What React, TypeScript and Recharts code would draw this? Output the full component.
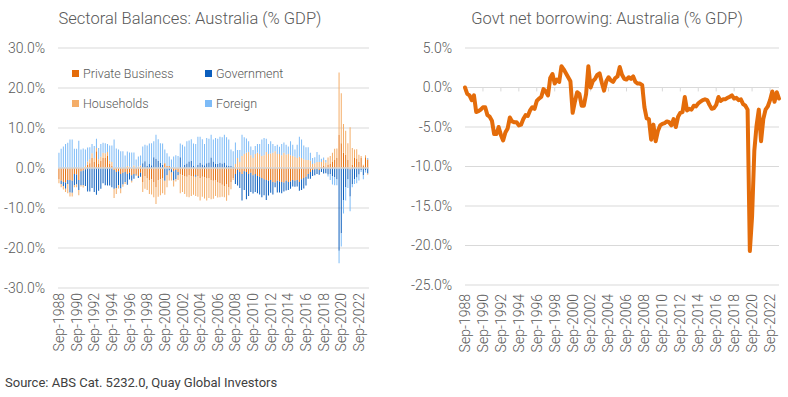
import React from 'react';
import { BarChart, Bar, XAxis, YAxis, CartesianGrid, ReferenceLine, LineChart, Line } from 'recharts';

// ---------- categories ----------
const MONTHS = ['Sep', 'Dec', 'Mar', 'Jun'];
const START_YEAR = 1988;
const N_QUARTERS = 141;
const CATEGORIES: string[] = Array.from({ length: N_QUARTERS }, (_, i) => `${MONTHS[i % 4]}-${START_YEAR + Math.floor((i + 2) / 4)}`);

const TICK_LABELS = [
  'Sep-1988', 'Sep-1990', 'Sep-1992', 'Sep-1994', 'Sep-1996', 'Sep-1998', 'Sep-2000', 'Sep-2002', 'Sep-2004',
  'Sep-2006', 'Sep-2008', 'Sep-2010', 'Sep-2012', 'Sep-2014', 'Sep-2016', 'Sep-2018', 'Sep-2020', 'Sep-2022',
];

const LEFT_Y_TICKS = [-30, -20, -10, 0, 10, 20, 30];
const RIGHT_Y_TICKS = [-25, -20, -15, -10, -5, 0, 5];

// ---------- series (% GDP) ----------
const PRIVATE_BUSINESS = [
  -2.8, -3.2, -3.5, -3.6, -3.0, -3.0, -3.2, -1.5, -1.6, -3.0,
  -0.8, -0.6, -0.3, 0.8, 1.2, 2.5, 1.5, 4.2, 1.0, 1.8,
  2.5, 2.5, 3.0, 1.0, 0.5, -0.5, -1.0, -0.8, -1.5, -1.2,
  -1.0, -1.5, -1.2, -1.8, -1.5, -1.6, -2.0, -1.2, -3.5, -2.0,
  -2.5, -3.0, -2.8, -3.5, -4.8, -3.0, -2.8, -2.5, 1.2, 0.5,
  0.5, -0.3, -0.8, -0.5, -1.0, -1.5, -1.8, -2.0, -2.2, -1.8,
  -2.0, -2.2, -1.8, -2.0, -2.5, -2.2, -2.4, -2.6, -2.5, -3.0,
  -3.2, -3.0, -3.6, -3.8, -4.2, -4.5, -4.0, -4.8, -3.5, -2.5,
  -1.5, -0.5, -1.0, -1.5, -0.8, -1.0, -1.5, -1.2, -1.8, -1.5,
  -2.0, -2.2, -2.5, -2.8, -3.0, -3.2, -3.0, -3.5, -3.6, -3.2,
  -3.4, -3.5, -3.6, -3.2, -3.5, -3.4, -3.0, -3.2, -3.0, -3.5,
  -2.8, -2.5, -2.2, -1.5, -1.0, -0.5, -0.3, -0.2, -0.5, 0.3,
  0.5, 0.2, 0.8, 1.0, 1.5, 2.0, 2.5, 8.3, 6.2, 3.8,
  3.3, 2.0, -0.3, 0.8, 2.5, 2.4, 1.5, 2.5, 0.5, 2.7, 2.1,
];

const GOVERNMENT = [
  0.0, -0.8, -1.0, -1.6, -1.0, -3.1, -3.0, -2.8, -2.5, -2.5,
  -3.5, -3.7, -4.2, -5.9, -5.9, -5.0, -6.0, -6.7, -5.7, -5.2,
  -3.8, -4.3, -4.4, -4.4, -4.8, -4.7, -4.0, -3.5, -3.6, -2.9,
  -2.5, -2.7, -1.7, -1.4, -1.2, -0.2, -0.5, -1.0, 1.2, 1.7,
  0.5, 1.0, 0.7, 2.7, 2.3, 1.8, 1.3, 0.8, -3.2, -1.8,
  -0.6, -0.8, -2.3, -2.3, -0.8, 2.7, 0.0, 0.8, 1.1, 1.6,
  1.8, 0.6, -0.4, 0.8, 1.3, 0.9, 0.7, 1.2, 1.4, 2.6,
  1.6, 1.1, 1.0, 1.3, 1.1, 1.4, 0.7, 0.5, 0.5, 0.3,
  -2.5, -3.9, -4.0, -6.6, -4.7, -6.8, -5.5, -4.8, -4.6, -4.5,
  -4.3, -4.4, -4.8, -4.0, -5.0, -3.7, -3.2, -3.1, -1.2, -2.9,
  -2.7, -2.8, -2.3, -2.4, -2.0, -1.8, -1.6, -1.5, -1.6, -2.2,
  -2.7, -2.6, -2.2, -1.2, -1.7, -1.5, -1.5, -1.3, -1.2, -1.0,
  -1.4, -1.3, -1.6, -1.5, -2.1, -2.3, -2.8, -20.7, -16.3, -8.0,
  -4.8, -2.8, -6.8, -4.0, -2.8, -2.4, -1.6, -0.5, -1.8, -0.6, -1.4,
];

const HOUSEHOLDS = [
  -1.0, -0.8, -0.9, -0.8, -2.3, -1.0, -0.9, -0.5, -0.7, -1.3,
  -0.3, -0.6, 0.5, 0.8, 1.0, 1.2, 1.0, 0.8, 1.2, 1.0,
  1.3, 1.2, 1.0, 0.8, 1.0, -2.3, -1.5, -0.8, -1.2, -0.6,
  -0.5, 0.5, 0.3, -0.4, 0.6, -0.2, 0.4, 0.6, -2.5, -3.2,
  -3.0, -3.5, -3.8, -3.8, -4.2, -4.2, -4.0, -3.8, -3.5, -3.0,
  -2.5, -2.0, -1.5, -0.6, -1.2, -4.8, -4.2, -4.5, -5.0, -5.5,
  -5.0, -4.5, -4.8, -5.2, -5.6, -5.0, -5.2, -5.5, -5.0, -4.8,
  -4.5, -4.0, -3.8, -3.5, -3.0, -2.8, -4.2, -2.0, -1.8, -0.5,
  1.0, 2.5, 1.5, 3.0, 3.5, 3.8, 4.0, 3.2, 2.5, 3.5,
  3.8, 3.5, 3.0, 3.2, 4.0, 3.5, 3.6, 3.8, 4.2, 3.5,
  3.5, 3.2, 3.8, 3.4, 3.5, 3.2, 3.0, 2.8, 2.5, 2.8,
  2.5, 2.2, 2.0, 2.0, 1.8, 1.0, 1.2, 1.5, 1.5, 1.2,
  1.5, 1.2, 1.8, 2.0, 2.3, 2.8, 2.4, 15.6, 12.5, 7.2,
  6.0, 4.2, 10.2, 4.2, 2.1, 2.3, 1.8, 0.5, 0.3, 0.5, -0.3,
];

const FOREIGN = [
  3.8, 4.8, 5.4, 6.0, 6.3, 7.1, 7.1, 4.8, 4.8, 6.8,
  4.6, 4.9, 4.1, 3.5, 3.0, 2.3, 3.0, 2.3, 2.8, 3.2,
  2.5, 2.5, 2.0, 3.8, 4.1, 7.1, 4.9, 4.6, 4.2, 4.2,
  3.1, 3.6, 3.6, 3.9, 3.3, 2.1, 2.5, 2.5, 4.2, 4.1,
  5.1, 5.1, 5.5, 4.0, 6.0, 5.4, 4.9, 5.3, 3.4, 3.2,
  2.4, 2.1, 2.9, 3.2, 3.0, 3.4, 5.8, 4.6, 5.6, 5.3,
  5.4, 5.5, 6.0, 7.0, 6.5, 6.3, 5.3, 6.3, 5.9, 5.7,
  5.5, 6.4, 6.3, 6.5, 6.6, 6.9, 7.0, 6.6, 4.1, 3.9,
  5.4, 2.0, 3.0, 5.3, 4.2, 3.6, 2.7, 2.2, 2.0, 2.0,
  2.2, 2.5, 4.1, 4.3, 3.3, 2.5, 3.1, 2.2, 1.3, 2.3,
  1.8, 2.8, 2.6, 2.4, 1.9, 3.5, 2.8, 1.8, 3.3, 5.0,
  4.6, 3.4, 3.2, 3.2, 2.0, 1.5, 1.5, 2.5, 1.8, 0.8,
  0.6, 0.6, -0.5, -1.5, -2.0, -2.0, -1.5, -3.1, -3.3, -3.4,
  -3.3, -2.2, -3.7, -0.8, -1.2, -1.4, -1.5, -0.5, -1.0, -0.5, 0.4,
];

const SERIES = [
  { key: 'privateBusiness', name: 'Private Business', color: '#E46C0A', values: PRIVATE_BUSINESS },
  { key: 'government', name: 'Government', color: '#0B5EBD', values: GOVERNMENT },
  { key: 'households', name: 'Households', color: '#F4AD68', values: HOUSEHOLDS },
  { key: 'foreign', name: 'Foreign', color: '#7DBBF7', values: FOREIGN },
];

const DATA = CATEGORIES.map((q, i) => {
  const row: Record<string, any> = { q };
  SERIES.forEach((s) => { row[s.key] = s.values[i]; });
  return row;
});

const GRID = '#d9d9d9';
const TEXT = '#595959';
const FONT = 'Roboto, "Open Sans", sans-serif';
const LINE_COLOR = '#E46C0A';

const pct = (v: number) => `${v.toFixed(1)}%`;

const RotTick = (props: any) => {
  const { x, y, payload } = props;
  return (
    <text
      x={x}
      y={y}
      transform={`rotate(-90, ${x}, ${y})`}
      textAnchor="end"
      dy="0.35em"
      fontSize={14}
      fontWeight={300}
      fill={TEXT}
      fontFamily={FONT}
    >
      {payload.value}
    </text>
  );
};

const yTickStyle = { fontSize: 14, fill: TEXT, fontFamily: FONT, fontWeight: 300 };

export default function App() {
  return (
    <div style={{ position: 'absolute', left: 0, top: 0, width: 788, height: 397, background: '#fff', fontFamily: FONT, overflow: 'hidden' }}>
      {/* Titles */}
      <div style={{ position: 'absolute', left: 40, top: 10, width: 300, textAlign: 'center', fontSize: 16.5, fontWeight: 300, lineHeight: '17px', color: TEXT, whiteSpace: 'nowrap' }}>
        Sectoral Balances: Australia (% GDP)
      </div>
      <div style={{ position: 'absolute', left: 457, top: 10, width: 300, textAlign: 'center', fontSize: 16.5, fontWeight: 300, lineHeight: '17px', color: TEXT, whiteSpace: 'nowrap' }}>
        Govt net borrowing: Australia (% GDP)
      </div>

      {/* Left: stacked bar chart */}
      <div style={{ position: 'absolute', left: 0, top: 0 }}>
        <BarChart
          width={400}
          height={397}
          data={DATA}
          stackOffset="sign"
          barCategoryGap="20%"
          margin={{ top: 48, right: 31, left: 0, bottom: 49 }}
        >
          <CartesianGrid vertical={false} stroke={GRID} />
          <XAxis
            dataKey="q"
            ticks={TICK_LABELS}
            interval={0}
            tick={<RotTick />}
            tickLine={false}
            axisLine={false}
            tickSize={0}
            tickMargin={5}
            height={60}
          />
          <YAxis
            domain={[-30, 30]}
            ticks={LEFT_Y_TICKS}
            tickFormatter={pct}
            tick={yTickStyle}
            tickLine={false}
            axisLine={false}
            tickSize={0}
            tickMargin={13}
            width={58}
            allowDataOverflow
          />
          {SERIES.map((s) => (
            <Bar key={s.key} dataKey={s.key} name={s.name} stackId="a" fill={s.color} isAnimationActive={false} />
          ))}
          <ReferenceLine y={0} stroke={GRID} strokeWidth={1.5} />
        </BarChart>
      </div>

      {/* Left legend */}
      <div style={{ position: 'absolute', left: 72, top: 65, display: 'grid', gridTemplateColumns: '133px 133px', rowGap: 13 }}>
        {SERIES.map((s) => (
          <div key={s.key} style={{ display: 'flex', alignItems: 'center', height: 17, fontSize: 12.5, fontWeight: 300, color: TEXT, whiteSpace: 'nowrap' }}>
            <span style={{ display: 'inline-block', width: 7, height: 7, background: s.color, marginRight: 4 }} />
            {s.name}
          </div>
        ))}
      </div>

      {/* Right: line chart */}
      <div style={{ position: 'absolute', left: 400, top: 0 }}>
        <LineChart
          width={388}
          height={397}
          data={DATA}
          margin={{ top: 48, right: 9, left: 0, bottom: 52 }}
        >
          <CartesianGrid vertical={false} stroke={GRID} />
          <XAxis
            dataKey="q"
            ticks={TICK_LABELS}
            interval={0}
            tick={<RotTick />}
            tickLine={false}
            axisLine={false}
            tickSize={0}
            tickMargin={9}
            height={60}
          />
          <YAxis
            domain={[-25, 5]}
            ticks={RIGHT_Y_TICKS}
            tickFormatter={pct}
            tick={yTickStyle}
            tickLine={false}
            axisLine={false}
            tickSize={0}
            tickMargin={13}
            width={65}
            allowDataOverflow
          />
          <ReferenceLine y={0} stroke={GRID} strokeWidth={1.2} />
          {TICK_LABELS.map((t) => (
            <ReferenceLine key={t} segment={[{ x: t, y: 0 }, { x: t, y: -0.5 }]} stroke={GRID} strokeWidth={1} />
          ))}
          <Line
            type="linear"
            dataKey="government"
            stroke={LINE_COLOR}
            strokeWidth={4}
            strokeLinejoin="round"
            strokeLinecap="round"
            dot={false}
            isAnimationActive={false}
          />
        </LineChart>
      </div>

      {/* Source */}
      <div style={{ position: 'absolute', left: 5, top: 375, fontSize: 13, lineHeight: '15px', color: '#404040', whiteSpace: 'nowrap' }}>
        Source: ABS Cat. 5232.0, Quay Global Investors
      </div>
    </div>
  );
}
